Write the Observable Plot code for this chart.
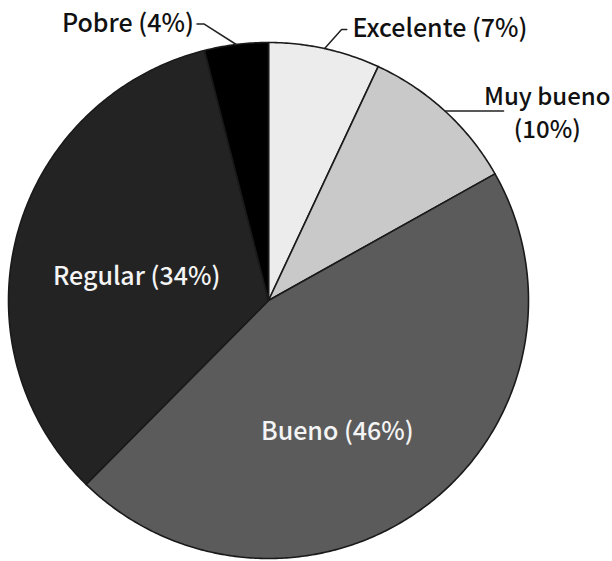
<!DOCTYPE html>
<html><head><meta charset="utf-8">
<script src="https://cdn.jsdelivr.net/npm/d3@7"></script>
<script src="https://cdn.jsdelivr.net/npm/@observablehq/plot@0.6"></script>
<style>body{margin:0;background:#fff}</style>
</head><body><div id="chart"></div>
<script>
const categories = ["Excelente", "Muy bueno", "Bueno", "Regular", "Pobre"];
const values = [7, 10, 46, 34, 4];
const labels = ["Excelente (7%)", "Muy bueno\n(10%)", "Bueno (46%)", "Regular (34%)", "Pobre (4%)"];
const colors = ["#ececec", "#c9c9c9", "#5b5b5b", "#232323", "#000000"];
const textColors = ["#111", "#111", "#f4f4f4", "#f4f4f4", "#111"];

const arcs = d3.pie().sort(null)(values);
const pt = (a, r = 1) => [r * Math.sin(a), r * Math.cos(a)];

// slice polygons
const poly = [];
arcs.forEach((d, i) => {
  poly.push({cat: categories[i], x: 0, y: 0});
  const n = Math.max(4, Math.ceil((d.endAngle - d.startAngle) / 0.01));
  for (let k = 0; k <= n; k++) {
    const a = d.startAngle + (d.endAngle - d.startAngle) * k / n;
    const [x, y] = pt(a);
    poly.push({cat: categories[i], x, y});
  }
});

// label layout (data units)
const mid = i => (arcs[i].startAngle + arcs[i].endAngle) / 2;
const layout = [
  {i: 0, elbow: [0.065, 0.074], end: [0.02, 0], tx: 0.022},
  {i: 1, elbow: [0.225, 0], end: [0, 0], tx: 0.168},
  {i: 4, elbow: [-0.123, 0.079], end: [-0.028, 0], tx: -0.012}
];
const leaders = [];
const outText = {};
layout.forEach(L => {
  const [x0, y0] = pt(mid(L.i));
  const e = [x0 + L.elbow[0], y0 + L.elbow[1]];
  const f = [e[0] + L.end[0], e[1] + L.end[1]];
  leaders.push({id: L.i, x: x0, y: y0}, {id: L.i, x: e[0], y: e[1]}, {id: L.i, x: f[0], y: f[1]});
  outText[L.i] = {i: L.i, x: f[0] + L.tx, y: f[1]};
});
const inText = [
  {i: 2, p: pt(mid(2) + 0.175, 0.575)},
  {i: 3, p: pt(mid(3) - 0.09, 0.515)}
];

const font = "Noto Sans CJK JP";
const common = {x: "x", y: "y", text: d => labels[d.i], fill: "#111", fontSize: 25, fontWeight: 500};
const chart = Plot.plot({
  width: 612, height: 561,
  marginTop: 0, marginRight: 0, marginBottom: 0, marginLeft: 0,
  x: {domain: [-1, 1], range: [8, 528], axis: null},
  y: {domain: [-1, 1], range: [558, 42], axis: null},
  color: {domain: categories, range: colors},
  style: {fontFamily: font, background: "#fff"},
  marks: [
    Plot.line(poly, {x: "x", y: "y", z: "cat", fill: "cat", stroke: "#1a1a1a", strokeWidth: 1.6, curve: "linear-closed"}),
    Plot.line(leaders, {x: "x", y: "y", z: "id", stroke: "#222", strokeWidth: 1.5}),
    Plot.text([outText[0]], {...common, textAnchor: "start"}),
    Plot.text([outText[4]], {...common, textAnchor: "end"}),
    Plot.text([outText[1]], {...common, fontSize: 24, textAnchor: "middle", lineHeight: 1.36}),
    Plot.text(inText, {x: d => d.p[0], y: d => d.p[1], text: d => labels[d.i], fill: d => textColors[d.i], fontSize: 25, fontWeight: 500})
  ]
});
document.getElementById("chart").appendChild(chart);
</script></body></html>
